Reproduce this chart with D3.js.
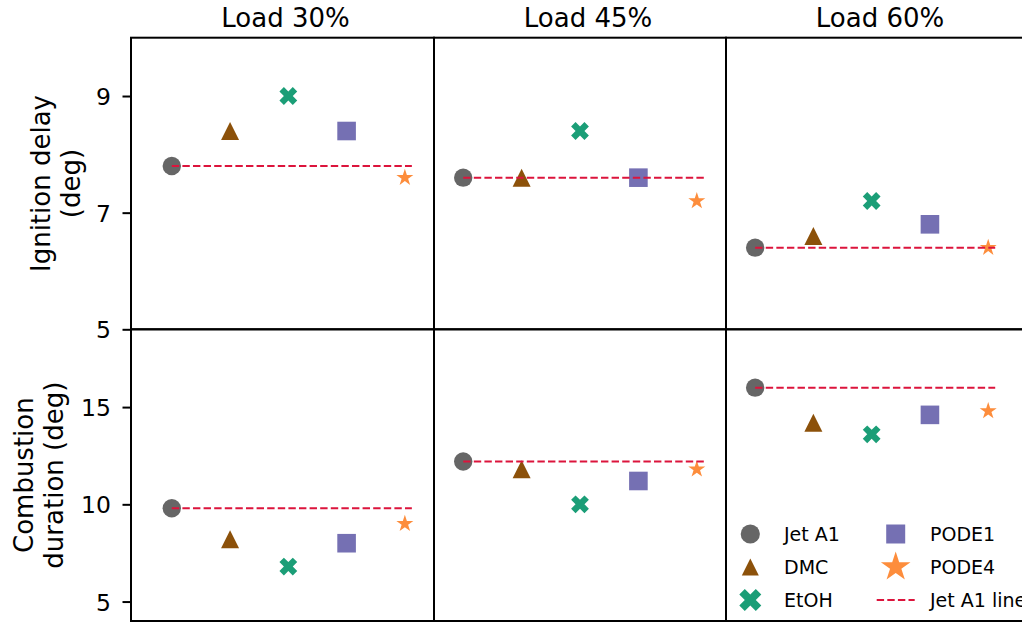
<!DOCTYPE html>
<html>
<head>
<meta charset="utf-8">
<script src="https://cdn.jsdelivr.net/npm/d3@7"></script>
<style>
  html, body { margin: 0; padding: 0; background: #fff; }
  svg { display: block; font-family: "DejaVu Sans", sans-serif; }
</style>
</head>
<body>
<svg id="chart" width="1022" height="623"></svg>
<script>
// ---------- data ----------
const loads = ["Load 30%", "Load 45%", "Load 60%"];
const fuels = ["Jet A1", "DMC", "EtOH", "PODE1", "PODE4"];
const fuelIndex = [0, 1, 2, 3, 4];
const ignitionDelay = [
  [7.8, 8.4, 9.0, 8.4, 7.6],
  [7.6, 7.6, 8.4, 7.6, 7.2],
  [6.4, 6.6, 7.2, 6.8, 6.4]
];
const combustionDuration = [
  [9.8, 8.2, 6.8, 8.0, 9.0],
  [12.2, 11.8, 10.0, 11.2, 11.8],
  [16.0, 14.2, 13.6, 14.6, 14.8]
];
const ignitionTicks = [5, 7, 9];
const durationTicks = [5, 10, 15];
const refLineSpan = [0, 4.12];
const rowLabels = [["Ignition delay", "(deg)"], ["Combustion", "duration (deg)"]];
const legendLabels = ["Jet A1", "DMC", "EtOH", "PODE1", "PODE4", "Jet A1 line"];

// ---------- styling ----------
const colors = ["#666666", "#8c510a", "#1b9e77", "#7570b3", "#fd8d3c"];
const lineColor = "#dc143c";

// custom matplotlib-like symbols; "size" = half-extent in px
const symCircle = { draw(c, r) { c.moveTo(r, 0); c.arc(0, 0, r, 0, 2 * Math.PI); c.closePath(); } };
const symTriangle = { draw(c, r) { c.moveTo(0, -r); c.lineTo(r, r); c.lineTo(-r, r); c.closePath(); } };
const symSquare = { draw(c, r) { c.rect(-r, -r, 2 * r, 2 * r); } };
const symX = { draw(c, r) {
  const k = r / (4 / Math.SQRT2);
  const pts = [[-1,-3],[-1,-1],[-3,-1],[-3,1],[-1,1],[-1,3],[1,3],[1,1],[3,1],[3,-1],[1,-1],[1,-3]];
  const a = Math.PI / 4;
  pts.forEach((p, i) => {
    const x = (p[0] * Math.cos(a) - p[1] * Math.sin(a)) * k;
    const y = (p[0] * Math.sin(a) + p[1] * Math.cos(a)) * k;
    if (i === 0) c.moveTo(x, y); else c.lineTo(x, y);
  });
  c.closePath();
} };
const symStar = { draw(c, w) {
  const R = w / Math.sin(2 * Math.PI / 5); // w = half width
  const ri = R * 0.381966;
  for (let i = 0; i < 10; i++) {
    const rad = i % 2 === 0 ? R : ri;
    const ang = -Math.PI / 2 + i * Math.PI / 5;
    const x = rad * Math.cos(ang), y = rad * Math.sin(ang);
    if (i === 0) c.moveTo(x, y); else c.lineTo(x, y);
  }
  c.closePath();
} };
const symbols = [symCircle, symTriangle, symX, symSquare, symStar];
const markerSize = [9.2, 9, 8.9, 9.3, 8.5];
const legendMarkerSize = [9.6, 8.5, 11, 9.5, 14.8];

// ---------- layout ----------
const svg = d3.select("#chart");
const colRanges = [[131, 434], [434, 726], [726, 1029]];
const colDomains = [[-0.7, 4.5], [-0.5, 4.5], [-0.5, 4.7]];
const rowRanges = [[329.3, 37.7], [621, 329.3]];
const rowDomains = [[5, 10], [4, 19]];
const rowData = [ignitionDelay, combustionDuration];
const rowTicks = [ignitionTicks, durationTicks];
const titleX = [285.5, 588, 880];

const xScales = colRanges.map((r, i) => d3.scaleLinear().domain(colDomains[i]).range(r));
const yScales = rowRanges.map((r, i) => d3.scaleLinear().domain(rowDomains[i]).range(r));

// titles
svg.selectAll("text.title").data(loads).join("text")
  .attr("class", "title")
  .attr("x", (d, i) => titleX[i]).attr("y", 27)
  .attr("text-anchor", "middle")
  .attr("font-size", 26).attr("fill", "#000")
  .text(d => d);

// panels
for (let r = 0; r < 2; r++) {
  for (let c = 0; c < 3; c++) {
    const x = xScales[c], y = yScales[r];
    const g = svg.append("g");
    const vals = rowData[r][c];

    // markers
    g.selectAll("path.mk").data(fuelIndex).join("path")
      .attr("class", "mk")
      .attr("transform", i => `translate(${x(i)},${y(vals[i])})`)
      .attr("d", i => d3.symbol().type(symbols[i]).size(markerSize[i])())
      .attr("fill", i => colors[i]);

    // Jet A1 reference line
    g.append("path")
      .attr("d", d3.line().x(d => x(d)).y(() => y(vals[0]))(refLineSpan))
      .attr("stroke", lineColor).attr("stroke-width", 2)
      .attr("stroke-dasharray", "7.4,3.2").attr("fill", "none");

    // frame
    g.append("rect")
      .attr("x", x.range()[0]).attr("y", y.range()[1])
      .attr("width", x.range()[1] - x.range()[0])
      .attr("height", y.range()[0] - y.range()[1])
      .attr("fill", "none").attr("stroke", "#000").attr("stroke-width", 2);

    if (c === 0) {
      const ax = g.append("g").attr("transform", `translate(${x.range()[0]},0)`)
        .call(d3.axisLeft(y).tickValues(rowTicks[r]).tickSize(8.5).tickPadding(11.5).tickFormat(d3.format("d")));
      ax.select(".domain").remove();
      ax.selectAll(".tick line").attr("stroke", "#000").attr("stroke-width", 2);
      ax.selectAll(".tick text").attr("font-size", 23.5).attr("fill", "#000")
        .attr("font-family", "DejaVu Sans").attr("dy", "0.36em");

      const yc = (y.range()[0] + y.range()[1]) / 2;
      const baseX = r === 0 ? [50, 80] : [33, 63];
      rowLabels[r].forEach((t, k) => {
        svg.append("text")
          .attr("transform", `translate(${baseX[k]},${yc}) rotate(-90)`)
          .attr("text-anchor", "middle").attr("font-size", 26).attr("fill", "#000")
          .text(t);
      });
    }
  }
}

// legend
const legendRows = [534, 567, 600];
const legendCols = [750.3, 895.7];
const legendTextX = [784, 930];
const legendItems = legendLabels.map((lab, i) => ({ lab, i, col: Math.floor(i / 3), row: i % 3 }));
const lg = svg.append("g");
legendItems.forEach(d => {
  const cx = legendCols[d.col], cy = legendRows[d.row];
  if (d.i < 5) {
    lg.append("path")
      .attr("transform", `translate(${cx},${cy})`)
      .attr("d", d3.symbol().type(symbols[d.i]).size(legendMarkerSize[d.i])())
      .attr("fill", colors[d.i]);
  } else {
    lg.append("line")
      .attr("x1", cx - 19).attr("x2", cx + 19).attr("y1", cy).attr("y2", cy)
      .attr("stroke", lineColor).attr("stroke-width", 2).attr("stroke-dasharray", "7.4,3.2");
  }
  lg.append("text")
    .attr("x", legendTextX[d.col]).attr("y", cy + 7)
    .attr("font-size", 19).attr("fill", "#000")
    .text(d.lab);
});
</script>
</body>
</html>
